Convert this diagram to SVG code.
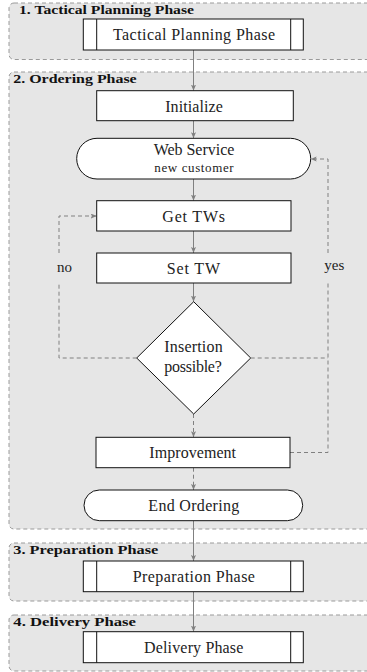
<svg xmlns="http://www.w3.org/2000/svg" width="367" height="672" viewBox="0 0 367 672">
<style>
.phase{fill:#e6e6e6;stroke:#9a9a9a;stroke-width:1;stroke-dasharray:4 3}
.plabel{font-family:'Liberation Serif','DejaVu Serif','Times New Roman',serif;font-weight:bold;font-size:12px;fill:#111}
.node{fill:#fff;stroke:#111;stroke-width:1}
.t{font-family:'Liberation Serif','DejaVu Serif','Times New Roman',serif;font-size:16px;fill:#222;text-anchor:middle}
.ts{font-family:'Liberation Serif','DejaVu Serif','Times New Roman',serif;font-size:13px;fill:#222;text-anchor:middle}
.c{fill:none;stroke:#808080;stroke-width:1}
.d{stroke-dasharray:4 3}
</style>
<defs>
<marker id="ah" markerUnits="userSpaceOnUse" markerWidth="8" markerHeight="8" refX="6" refY="2.5" orient="auto">
<path d="M0,0 L6,2.5 L0,5 L1.2,2.5 z" fill="#808080"/>
</marker>
</defs>
<g id="phase1">
<rect class="phase" x="9" y="3" width="370" height="56.5" rx="5"/>
<text class="plabel" x="19" y="13.5" textLength="175" lengthAdjust="spacingAndGlyphs">1. Tactical Planning Phase</text>
</g>
<g id="phase2">
<rect class="phase" x="9" y="72" width="370" height="457" rx="5"/>
<text class="plabel" x="13.3" y="83" textLength="123.4" lengthAdjust="spacingAndGlyphs">2. Ordering Phase</text>
</g>
<g id="phase3">
<rect class="phase" x="9" y="543" width="370" height="58" rx="5"/>
<text class="plabel" x="13.3" y="554" textLength="145" lengthAdjust="spacingAndGlyphs">3. Preparation Phase</text>
</g>
<g id="phase4">
<rect class="phase" x="9" y="615" width="370" height="56" rx="5"/>
<text class="plabel" x="13.3" y="625.5" textLength="122.7" lengthAdjust="spacingAndGlyphs">4. Delivery Phase</text>
</g>
<g id="connectors">
<line class="c" x1="193.5" y1="50" x2="193.5" y2="90.7" marker-end="url(#ah)"/>
<line class="c" x1="193.5" y1="120.7" x2="193.5" y2="138.3" marker-end="url(#ah)"/>
<line class="c" x1="193.5" y1="179" x2="193.5" y2="200.7" marker-end="url(#ah)"/>
<line class="c" x1="193.5" y1="231" x2="193.5" y2="253" marker-end="url(#ah)"/>
<line class="c" x1="193.5" y1="283" x2="193.5" y2="301.7" marker-end="url(#ah)"/>
<line class="c d" x1="193.5" y1="414" x2="193.5" y2="437.3" marker-end="url(#ah)"/>
<line class="c d" x1="193.5" y1="467.7" x2="193.5" y2="490" marker-end="url(#ah)"/>
<line class="c" x1="193.5" y1="520.7" x2="193.5" y2="561" marker-end="url(#ah)"/>
<line class="c" x1="193.5" y1="591.7" x2="193.5" y2="631.7" marker-end="url(#ah)"/>
<path class="c d" d="M136.7,358 H59 V283"/>
<path class="c d" d="M59,253 V216 H96.7" marker-end="url(#ah)"/>
<path class="c d" d="M250.7,358 H328"/>
<path class="c d" d="M290,452.5 H328 V283"/>
<path class="c d" d="M328,253 V159 H310.7" marker-end="url(#ah)"/>
<text class="t" x="64.5" y="271.7" style="font-size:15px">no</text>
<text class="t" x="334.3" y="270" style="font-size:15px">yes</text>
</g>
<g id="tactical">
<rect class="node" x="83.3" y="19" width="220" height="31"/>
<line class="node" x1="96.7" y1="19" x2="96.7" y2="50"/>
<line class="node" x1="290.7" y1="19" x2="290.7" y2="50"/>
<text class="t" x="194" y="39.5" textLength="162">Tactical Planning Phase</text>
</g>
<g id="initialize">
<rect class="node" x="96.7" y="90.7" width="196.6" height="30"/>
<text class="t" x="194" y="111.5" textLength="57.7">Initialize</text>
</g>
<g id="webservice">
<rect class="node" x="76.7" y="138.3" width="234" height="40.7" rx="20.3"/>
<text class="t" x="194" y="155" textLength="80.7">Web Service</text>
<text class="ts" x="194" y="172.3" textLength="79.3">new customer</text>
</g>
<g id="gettws">
<rect class="node" x="96.7" y="200.7" width="194.3" height="30.3"/>
<text class="t" x="193.7" y="221.5" textLength="62.7">Get TWs</text>
</g>
<g id="settw">
<rect class="node" x="96.7" y="253" width="194.3" height="30"/>
<text class="t" x="193.4" y="273.8" textLength="53.3">Set TW</text>
</g>
<g id="decision">
<polygon class="node" points="193.7,301.7 250.7,358 193.7,414 136.7,358"/>
<text class="t" x="193.5" y="352.3" textLength="58.3">Insertion</text>
<text class="t" x="193" y="372.3" textLength="57.7">possible?</text>
</g>
<g id="improvement">
<rect class="node" x="96" y="437.3" width="194" height="30.4"/>
<text class="t" x="192.7" y="457.5" textLength="86.7">Improvement</text>
</g>
<g id="endordering">
<rect class="node" x="84" y="490" width="218.7" height="30.7" rx="15.3"/>
<text class="t" x="193.8" y="510.5" textLength="91">End Ordering</text>
</g>
<g id="preparation">
<rect class="node" x="83.3" y="561" width="220" height="30.7"/>
<line class="node" x1="96.7" y1="561" x2="96.7" y2="591.7"/>
<line class="node" x1="290.7" y1="561" x2="290.7" y2="591.7"/>
<text class="t" x="193.8" y="582" textLength="122.3">Preparation Phase</text>
</g>
<g id="delivery">
<rect class="node" x="83.3" y="631.7" width="220" height="31"/>
<line class="node" x1="96.7" y1="631.7" x2="96.7" y2="662.7"/>
<line class="node" x1="290.7" y1="631.7" x2="290.7" y2="662.7"/>
<text class="t" x="193.7" y="652.5" textLength="99.3">Delivery Phase</text>
</g>
</svg>
